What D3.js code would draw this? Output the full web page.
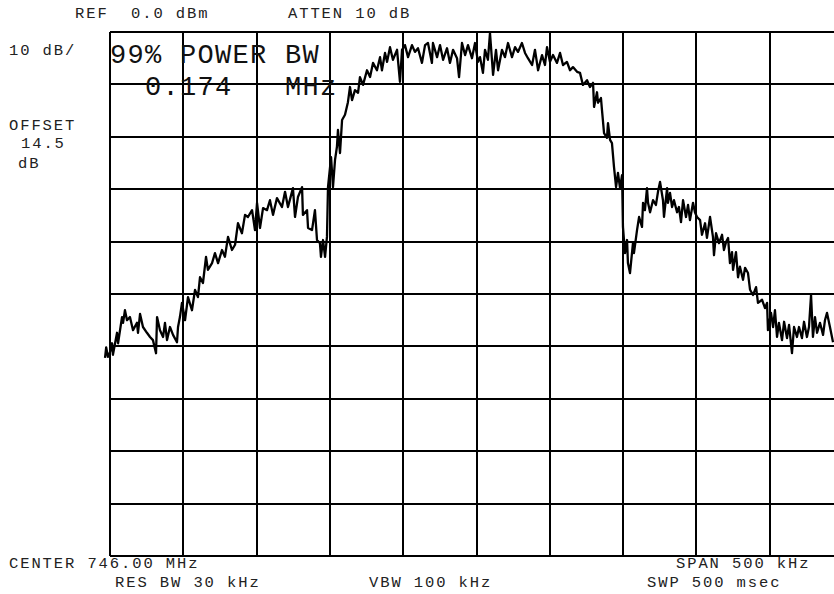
<!DOCTYPE html>
<html>
<head>
<meta charset="utf-8">
<script src="https://cdn.jsdelivr.net/npm/d3@7"></script>
<style>
  html, body { margin: 0; padding: 0; background: #fff; }
  svg { display: block; }
  .lbl { font-family: 'Liberation Mono', 'Courier New', monospace; font-size: 15.5px; letter-spacing: 1.9px; fill: #222; }
  .big { font-family: 'Liberation Mono', 'Courier New', monospace; font-size: 27px; letter-spacing: 1.3px; fill: #111; }
  .grid line { stroke: #000; stroke-width: 2; shape-rendering: crispEdges; }
  .grid .domain { display: none; }
  .trace { fill: none; stroke: #000; stroke-width: 2.3; stroke-linejoin: round; }
</style>
</head>
<body>
<svg id="chart" width="834" height="594"></svg>
<script>
// frequency offset from centre (kHz) and trace level (dBm)
const traceFreqKHz = [
  -253.4, -252.6, -251.4, -250.0, -248.6, -248.0, -245.2, -244.5, -241.8, -241.1, -239.8,
  -238.4, -236.4, -234.3, -231.6, -230.9, -229.5, -227.5, -224.8, -222.7, -220.7,
  -218.6, -217.9, -215.9, -213.8, -212.5, -211.1, -209.1, -207.0, -204.3, -203.6,
  -202.3, -200.9, -198.8, -196.8, -194.1, -192.0, -190.0, -188.6, -186.6, -184.5,
  -183.2, -180.4, -178.4, -176.3, -173.6, -171.6, -169.5, -166.8, -164.7, -162.7,
  -160.0, -157.9, -155.9, -153.1, -151.1, -149.7,
  -147.7, -145.6, -142.9, -140.9, -138.8, -136.1, -132.7, -130.6, -128.6, -125.2,
  -123.8, -121.8, -119.0, -118.4, -115.6, -114.9, -112.2, -110.2, -108.8, -106.8,
  -106.1, -104.7, -103.3, -102.0, -101.3, -99.2, -97.9, -96.5, -95.2, -94.5,
  -93.1, -91.7, -89.7, -87.7, -86.3, -84.9, -82.9, -80.8,
  -79.5, -77.4, -74.7, -72.6, -70.6, -67.9, -65.8, -64.5, -62.4, -61.0,
  -59.0, -57.0, -54.2, -52.2, -50.8, -48.8, -46.7, -44.0, -42.0, -39.9,
  -37.2, -35.1, -33.1, -30.4, -29.7, -26.9, -24.9, -22.8, -20.1, -18.1,
  -16.0, -13.3, -11.9, -9.9, -7.8, -5.8, -3.1, -1.0, 1.0,
  2.4, 4.4, 5.8, 7.8, 9.2, 11.3, 13.3, 14.7, 17.4, 19.4,
  21.5, 24.2, 26.3, 28.3, 31.0, 33.1, 35.1, 37.9, 39.9, 42.0,
  44.7, 46.7, 48.1, 50.1, 52.2, 54.9, 57.0, 59.0, 61.7, 63.8,
  65.8, 68.6,
  70.6, 72.6, 75.4, 77.4, 79.5, 80.2, 82.2, 82.9, 84.9, 85.6,
  87.0, 89.0, 89.7, 91.1, 92.4, 93.8, 95.2, 96.5, 97.9, 99.3,
  99.9, 101.3, 102.7, 103.3, 104.7, 106.8, 107.4, 109.5, 110.9, 112.9,
  113.6, 114.9, 116.3, 117.0, 118.4, 120.4, 122.4, 123.8, 125.2, 127.2,
  127.9, 130.0, 130.6, 132.0, 133.4, 134.7, 136.8, 138.1, 139.5, 140.9,
  142.9, 144.3, 145.6, 147.7, 149.0, 150.4,
  152.5, 153.8, 155.9, 157.2, 159.3, 161.3, 162.0, 163.4, 165.4, 167.5,
  168.8, 170.2, 171.6, 172.9, 174.3, 175.0, 177.0, 178.4, 179.7, 181.8,
  183.2, 185.2, 186.6, 188.6, 190.7, 192.0, 194.8, 196.8, 198.2, 198.8,
  200.9, 202.3, 203.6, 205.0, 206.3, 208.4, 209.8, 211.8, 213.2, 215.2,
  216.6, 218.6, 220.0, 222.0, 223.4, 225.4, 226.8, 228.2, 229.5, 230.9,
  232.3, 234.3, 236.4, 237.7, 239.1, 241.1, 243.2
];

const traceLevelDbm = [
  -62.2, -60.2, -62.0, -61.1, -59.4, -61.6, -57.4, -59.4, -54.4, -55.5, -53.1,
  -55.0, -54.4, -56.9, -55.5, -57.4, -53.8, -56.3, -57.4, -58.2, -58.8,
  -61.3, -54.4, -56.9, -58.2, -55.5, -58.8, -56.3, -57.8, -59.2, -56.3,
  -54.4, -51.7, -55.0, -50.6, -53.1, -49.2, -50.6, -46.8, -47.9, -42.9,
  -45.4, -44.1, -42.2, -44.1, -41.6, -42.9, -39.1, -41.6, -40.6, -36.5,
  -38.4, -34.9, -35.3, -34.0, -37.8, -32.6,
  -37.4, -33.6, -34.0, -32.1, -34.9, -31.7, -33.4, -30.5, -33.4, -29.8,
  -35.3, -31.5, -29.6, -34.9, -34.0, -37.4, -37.8, -34.0, -39.7, -40.3,
  -42.9, -39.7, -42.9, -39.1, -29.6, -23.9, -29.6, -24.4, -21.9, -18.7,
  -23.1, -16.8, -15.8, -13.4, -10.5, -13.0, -11.1, -11.6,
  -8.6, -10.1, -7.3, -8.6, -5.9, -7.3, -4.8, -7.3, -4.0, -5.7,
  -2.9, -5.3, -3.4, -9.5, -3.4, -2.5, -4.8, -2.5, -3.8, -3.1,
  -5.9, -2.5, -2.1, -5.9, -2.1, -4.8, -2.5, -5.3, -3.1, -5.9,
  -3.4, -5.0, -8.6, -2.1, -4.4, -2.5, -5.0, -2.1, -5.7,
  -4.8, -7.8, -3.4, -5.3, -0.2, -8.2, -3.4, -7.3, -3.4, -4.8,
  -2.1, -4.8, -2.9, -3.8, -2.1, -4.0, -5.0, -6.3, -3.4, -7.3,
  -4.4, -6.3, -2.9, -5.7, -4.4, -5.9, -4.0, -6.3, -5.7, -7.3,
  -6.7, -7.6,
  -7.8, -10.1, -9.2, -10.5, -9.7, -14.3, -11.5, -13.5, -12.6, -14.9,
  -19.3, -20.2, -17.4, -20.6, -21.2, -25.8, -29.6, -26.9, -29.8, -27.3,
  -37.2, -42.2, -39.7, -44.1, -46.0, -40.1, -42.2, -37.8, -35.3, -37.2,
  -32.6, -34.0, -29.8, -32.6, -34.4, -32.1, -33.0, -30.5, -28.6, -32.1,
  -35.3, -29.8, -32.6, -30.7, -33.4, -32.1, -34.4, -33.4, -36.3, -32.1,
  -35.3, -33.0, -35.9, -32.6, -34.4, -35.3,
  -35.9, -38.7, -36.5, -39.3, -35.3, -39.1, -42.6, -38.4, -40.3, -38.7,
  -41.6, -40.1, -39.3, -44.1, -42.0, -45.4, -42.0, -46.8, -44.8, -47.3,
  -45.0, -46.0, -49.2, -50.2, -48.7, -51.7, -51.1, -52.7, -51.7, -56.9,
  -53.6, -56.3, -53.1, -58.2, -55.5, -58.8, -55.3, -58.4, -55.9, -61.3,
  -56.3, -58.2, -56.3, -58.4, -55.3, -58.2, -56.3, -50.2, -58.2, -54.4,
  -57.4, -55.5, -57.8, -55.0, -53.6, -56.3, -59.2
];

const spanKHz = [-250, 250];
const levelRange = [-100, 0];   // REF 0.0 dBm, 10 dB/div

// screen annotations [text, x, y, class]
const annotations = [
  ['REF', 75, 18, 'lbl'],
  ['0.0 dBm', 131, 18, 'lbl'],
  ['ATTEN 10 dB', 288, 18, 'lbl'],
  ['10 dB/', 9, 55, 'lbl'],
  ['OFFSET', 9, 130, 'lbl'],
  ['14.5', 21, 148, 'lbl'],
  ['dB', 18, 168, 'lbl'],
  ['99% POWER BW', 110, 63, 'big'],
  ['0.174', 145, 95, 'big'],
  ['MHz', 285, 95, 'big'],
  ['CENTER 746.00 MHz', 9, 568, 'lbl'],
  ['SPAN 500 kHz', 676, 568, 'lbl'],
  ['RES BW 30 kHz', 115, 587, 'lbl'],
  ['VBW 100 kHz', 369, 587, 'lbl'],
  ['SWP 500 msec', 647, 587, 'lbl']
];

(function () {
  const svg = d3.select('#chart');

  const x = d3.scaleLinear().domain(spanKHz).range([110, 843]);
  const y = d3.scaleLinear().domain(levelRange).range([556, 32]);

  // graticule: 10 x 10 divisions
  svg.append('g')
    .attr('class', 'grid')
    .attr('transform', 'translate(0,' + y(-100) + ')')
    .call(d3.axisBottom(x).ticks(10).tickSize(-(y(-100) - y(0))).tickFormat('').offset(0));

  svg.append('g')
    .attr('class', 'grid')
    .attr('transform', 'translate(' + x(-250) + ',0)')
    .call(d3.axisLeft(y).ticks(10).tickSize(-(x(250) - x(-250))).tickFormat('').offset(0));

  const points = d3.zip(traceFreqKHz, traceLevelDbm);

  const line = d3.line()
    .x(function (d) { return x(d[0]); })
    .y(function (d) { return y(d[1]); });

  svg.append('path')
    .attr('class', 'trace')
    .attr('d', line(points));

  svg.append('g')
    .selectAll('text')
    .data(annotations)
    .enter()
    .append('text')
    .attr('class', function (d) { return d[3]; })
    .attr('x', function (d) { return d[1]; })
    .attr('y', function (d) { return d[2]; })
    .text(function (d) { return d[0]; });
})();
</script>
</body>
</html>
